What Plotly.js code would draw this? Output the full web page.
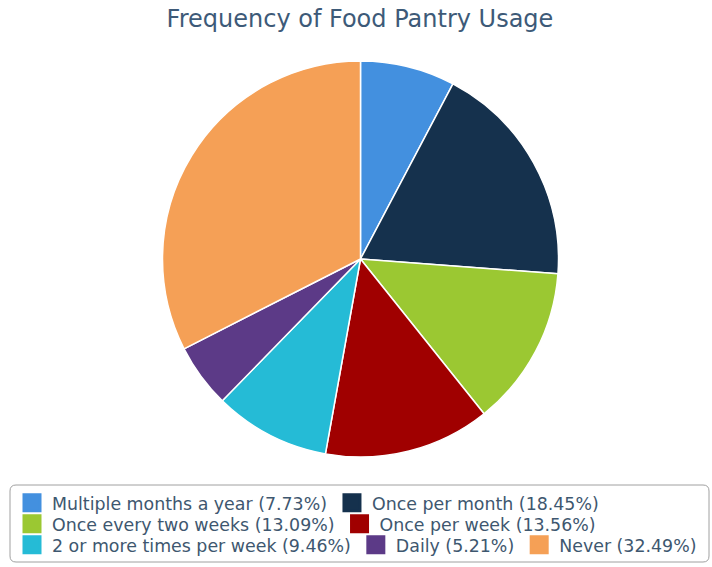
<!DOCTYPE html>
<html><head><meta charset="utf-8">
<script src="https://cdn.plot.ly/plotly-3.0.1.min.js"></script>
<style>html,body{margin:0;padding:0;background:#fff}#chart{width:712px;height:567px}</style>
</head><body><div id="chart"></div>
<script>
const categories = ["Multiple months a year", "Once per month", "Once every two weeks", "Once per week", "2 or more times per week", "Daily", "Never"];
const shares = [7.73, 18.45, 13.09, 13.56, 9.46, 5.21, 32.49];
const colors = ["#4390DF", "#15314D", "#9BC832", "#A00000", "#25BBD6", "#5C3A87", "#F5A056"];
const legendRow = [0, 0, 1, 1, 2, 2, 2];
const labels = categories.map((c, i) => c + " (" + shares[i].toFixed(2) + "%)");

const W = 712, H = 567;
const cx = 360.5, cy = 259, r = 198;

const pie = {
  type: "pie",
  labels: labels,
  values: shares,
  sort: false,
  direction: "clockwise",
  rotation: 0,
  textinfo: "none",
  hoverinfo: "label",
  showlegend: false,
  marker: {colors: colors, line: {color: "#ffffff", width: 1.5}},
  domain: {x: [(cx - r) / W, (cx + r) / W], y: [(H - cy - r) / H, (H - cy + r) / H]}
};

const legendNames = ["legend", "legend2", "legend3"];
const keys = labels.map((lab, i) => ({
  type: "scatter", mode: "markers", x: [null], y: [null],
  name: lab, showlegend: true, legend: legendNames[legendRow[i]],
  marker: {symbol: "square", size: 16, color: colors[i], line: {color: colors[i], width: 3}},
  hoverinfo: "skip"
}));

const rowCenters = [503, 524, 545];
function legendBox(k) {
  return {orientation: "h", x: 12 / W, xanchor: "left", y: 1 - rowCenters[k] / H, yanchor: "middle",
          font: {family: "DejaVu Sans", size: 17.4, color: "#3E576F"}, bgcolor: "rgba(0,0,0,0)",
          borderwidth: 0, itemwidth: 30, itemclick: false, itemdoubleclick: false};
}

const bx0 = 10, bx1 = 709, by0 = 485, by1 = 562, rr = 6;
const px = v => v / W, py = v => 1 - v / H;

const layout = {
  width: W, height: H,
  margin: {l: 0, r: 0, t: 0, b: 0},
  paper_bgcolor: "#ffffff", plot_bgcolor: "#ffffff",
  font: {family: "DejaVu Sans", color: "#3E576F"},
  title: {text: "Frequency of Food Pantry Usage", x: 360 / W, xanchor: "center", y: 1 - 19 / H, yanchor: "middle",
          font: {family: "DejaVu Sans", size: 24, color: "#3D5A78"}},
  xaxis: {visible: false, fixedrange: true},
  yaxis: {visible: false, fixedrange: true},
  showlegend: true,
  legend: legendBox(0), legend2: legendBox(1), legend3: legendBox(2),
  shapes: [{type: "path", xref: "paper", yref: "paper", line: {color: "#A0A0A0", width: 1},
    path: "M " + px(bx0 + rr) + "," + py(by0) + " L " + px(bx1 - rr) + "," + py(by0) +
          " Q " + px(bx1) + "," + py(by0) + " " + px(bx1) + "," + py(by0 + rr) +
          " L " + px(bx1) + "," + py(by1 - rr) +
          " Q " + px(bx1) + "," + py(by1) + " " + px(bx1 - rr) + "," + py(by1) +
          " L " + px(bx0 + rr) + "," + py(by1) +
          " Q " + px(bx0) + "," + py(by1) + " " + px(bx0) + "," + py(by1 - rr) +
          " L " + px(bx0) + "," + py(by0 + rr) +
          " Q " + px(bx0) + "," + py(by0) + " " + px(bx0 + rr) + "," + py(by0) + " Z"}]
};

Plotly.newPlot("chart", [pie].concat(keys), layout, {displayModeBar: false, staticPlot: true});
</script></body></html>
